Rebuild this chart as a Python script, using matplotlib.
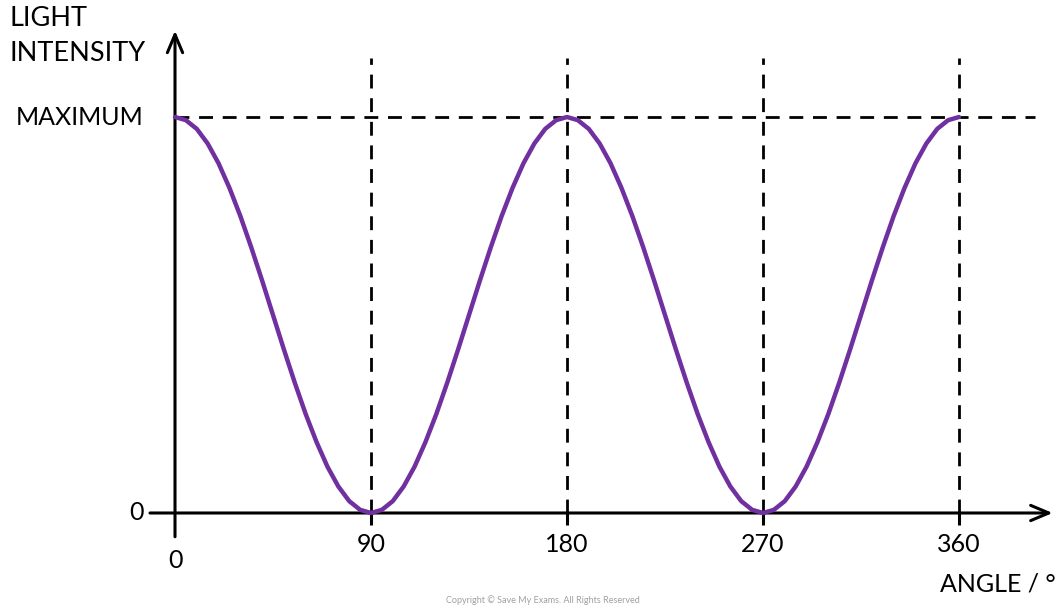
import matplotlib
matplotlib.use("Agg")
import matplotlib.pyplot as plt

plt.rcParams["lines.scale_dashes"] = False
plt.rcParams["font.family"] = ["Lato", "DejaVu Sans"]

# Polariser angle (degrees) and transmitted intensity as a fraction of the maximum
angles = list(range(0, 361, 5))
intensity = [
    1.000, 0.992, 0.970, 0.933, 0.883, 0.821, 0.750, 0.671, 0.587, 0.500,
    0.413, 0.329, 0.250, 0.179, 0.117, 0.067, 0.030, 0.008, 0.000,
    0.008, 0.030, 0.067, 0.117, 0.179, 0.250, 0.329, 0.413, 0.500, 0.587,
    0.671, 0.750, 0.821, 0.883, 0.933, 0.970, 0.992, 1.000,
    0.992, 0.970, 0.933, 0.883, 0.821, 0.750, 0.671, 0.587, 0.500,
    0.413, 0.329, 0.250, 0.179, 0.117, 0.067, 0.030, 0.008, 0.000,
    0.008, 0.030, 0.067, 0.117, 0.179, 0.250, 0.329, 0.413, 0.500, 0.587,
    0.671, 0.750, 0.821, 0.883, 0.933, 0.970, 0.992, 1.000,
]

tick_angles = [90, 180, 270, 360]
tick_labels = ["90", "180", "270", "360"]
y_labels = {0.0: "0", 1.0: "MAXIMUM"}
y_title = ["LIGHT", "INTENSITY"]
x_title = "ANGLE / °"

curve_color = "#7030A0"

fig = plt.figure(figsize=(10.57, 6.07), dpi=100)
ax = fig.add_axes([0, 0, 1, 1])
ax.set_xlim(-80.36, 405.0)
ax.set_ylim(-0.2374, 1.2955)
ax.axis("off")

dash = (0, (10, 7))

# Reference lines to the maximum and at each marked angle
ax.plot([0, 395], [1, 1], color="black", lw=2.0, linestyle=dash, zorder=1)
for a in tick_angles:
    ax.plot([a, a], [0, 1.149], color="black", lw=2.0, linestyle=dash, zorder=1)
    ax.plot([a, a], [0, -0.03], color="black", lw=2.2, zorder=2,
            solid_capstyle="butt")

# Axes with open arrow heads
ax.annotate("", xy=(403.0, 0), xytext=(-11.5, 0),
            arrowprops=dict(arrowstyle="->,head_length=1.3,head_width=0.55",
                            color="black", lw=2.2, shrinkA=0, shrinkB=0),
            zorder=3)
ax.annotate("", xy=(0, 1.218), xytext=(0, -0.06),
            arrowprops=dict(arrowstyle="->,head_length=1.3,head_width=0.55",
                            color="black", lw=2.2, shrinkA=0, shrinkB=0),
            zorder=3)

# Intensity curve
ax.plot(angles, intensity, color=curve_color, lw=3.2, zorder=4,
        solid_joinstyle="round", solid_capstyle="round")

# Labels
fs = 18
for a, lab in zip(tick_angles, tick_labels):
    ax.text(a, -0.08, lab, ha="center", va="center", fontsize=fs)
ax.text(0, -0.12, "0", ha="center", va="center", fontsize=fs)
for yv, lab in y_labels.items():
    ax.text(-14.5, yv, lab, ha="right", va="center", fontsize=fs)
ax.text(-76.0, 1.250, y_title[0], ha="left", va="center", fontsize=19.5)
ax.text(-76.0, 1.160, y_title[1], ha="left", va="center", fontsize=19.5)
ax.text(404.5, -0.18, x_title, ha="right", va="center", fontsize=fs)

fig.text(0.514, 0.011, "Copyright © Save My Exams. All Rights Reserved",
         ha="center", va="center", fontsize=6.5, color="#a0a0a0")

fig.savefig("out.png", dpi=100)
